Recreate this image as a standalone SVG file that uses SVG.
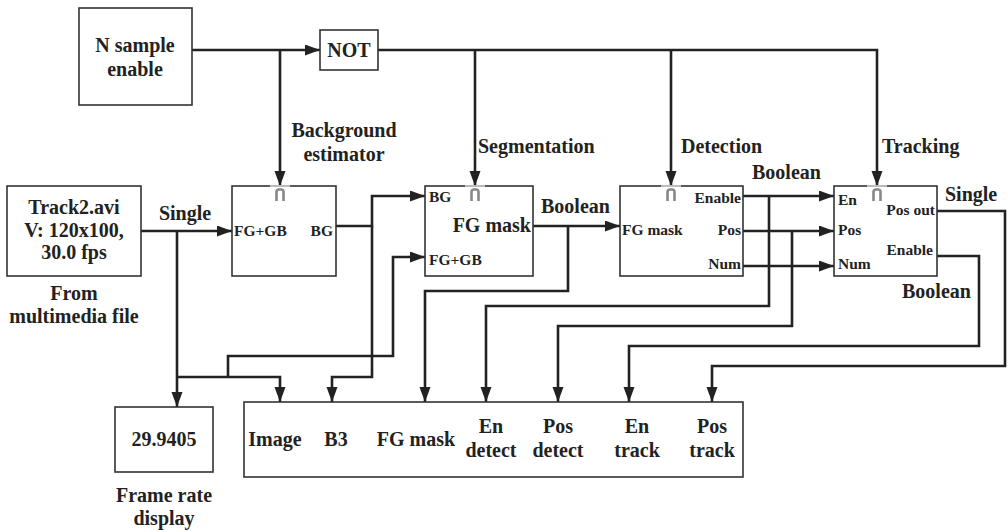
<svg xmlns="http://www.w3.org/2000/svg" width="1008" height="532" viewBox="0 0 1008 532" font-family="'Liberation Serif', 'Times New Roman', 'DejaVu Serif', serif">
<defs>
<marker id="ah" markerUnits="userSpaceOnUse" markerWidth="16" markerHeight="12" refX="15" refY="5.5" orient="auto">
<path d="M0,0 L15,5.5 L0,11 z" fill="#222"/>
</marker>
<g id="pulse">
<path d="M-10,0 H10" stroke="#bbb" stroke-width="2"/>
<path d="M-3.5,15 V6 Q-3.5,3.5 -1,3.5 H1 Q3.5,3.5 3.5,6 V15" fill="none" stroke="#888" stroke-width="2.6"/>
</g>
</defs>
<style>
.box{fill:#fff;stroke:#333;stroke-width:1.6}
.c{fill:none;stroke:#222;stroke-width:2.6;stroke-linejoin:miter}
.a{marker-end:url(#ah)}
text{font-family:'Liberation Serif','Times New Roman','DejaVu Serif',serif;font-weight:700;fill:#222}
.L{font-size:20px}
.p{font-size:15.5px}
.m{text-anchor:middle}
.e{text-anchor:end}
</style>
<rect width="1008" height="532" fill="#fff"/>

<g id="connectors">
<path class="c a" d="M192,50 H320"/>
<path class="c a" d="M280,50 V186"/>
<path class="c a" d="M378,50 H877 V186"/>
<path class="c a" d="M475,50 V186"/>
<path class="c a" d="M671,50 V186"/>
<path class="c a" d="M141,231 H232"/>
<path class="c a" d="M177,231 V407"/>
<path class="c a" d="M177,377 H280 V402"/>
<path class="c a" d="M228,377 V356 H393 V257 H425"/>
<path class="c a" d="M336,226 H372 V196 H425"/>
<path class="c a" d="M372,226 V377 H332 V402"/>
<path class="c a" d="M533,226 H620"/>
<path class="c a" d="M568,226 V291 H425 V402"/>
<path class="c a" d="M743,196 H834"/>
<path class="c a" d="M769,196 V306 H486 V402"/>
<path class="c a" d="M743,231 H834"/>
<path class="c a" d="M792,231 V326 H558 V402"/>
<path class="c a" d="M743,266 H834"/>
<path class="c a" d="M937,211 H1005 V366 H712 V402"/>
<path class="c a" d="M937,256 H979 V346 H629 V402"/>
</g>

<g id="nsample">
<rect class="box" x="79" y="8" width="113" height="97"/>
<text class="L m" x="135" y="52">N sample</text>
<text class="L m" x="135" y="76">enable</text>
</g>

<g id="not">
<rect class="box" x="320" y="30" width="58" height="40"/>
<text class="L m" x="349" y="57">NOT</text>
</g>

<g id="source">
<rect class="box" x="7" y="186" width="134" height="90"/>
<text class="L m" x="74" y="214">Track2.avi</text>
<text class="L m" x="74" y="237">V: 120x100,</text>
<text class="L m" x="74" y="259">30.0 fps</text>
<text class="L m" x="74" y="300">From</text>
<text class="L m" x="74" y="323">multimedia file</text>
</g>

<g id="bgest">
<rect class="box" x="232" y="186" width="104" height="90"/>
<use href="#pulse" x="280" y="186"/>
<text class="p" x="234" y="236">FG+GB</text>
<text class="p e" x="333" y="236">BG</text>
<text class="L m" x="344" y="137">Background</text>
<text class="L m" x="344" y="161">estimator</text>
</g>

<g id="segmentation">
<rect class="box" x="425" y="186" width="108" height="90"/>
<use href="#pulse" x="475" y="186"/>
<text class="p" x="429" y="202">BG</text>
<text class="L e" x="531" y="232">FG mask</text>
<text class="p" x="429" y="265">FG+GB</text>
<text class="L" x="478" y="153">Segmentation</text>
</g>

<g id="detection">
<rect class="box" x="620" y="186" width="123" height="90"/>
<use href="#pulse" x="671" y="186"/>
<text class="p e" x="741" y="203">Enable</text>
<text class="p e" x="741" y="235">Pos</text>
<text class="p e" x="741" y="269">Num</text>
<text class="p" x="622" y="235">FG mask</text>
<text class="L" x="681" y="153">Detection</text>
</g>

<g id="tracking">
<rect class="box" x="834" y="186" width="103" height="90"/>
<use href="#pulse" x="877" y="186"/>
<text class="p" x="838" y="205">En</text>
<text class="p" x="838" y="235">Pos</text>
<text class="p" x="838" y="269">Num</text>
<text class="p e" x="935" y="215">Pos out</text>
<text class="p e" x="933" y="255">Enable</text>
<text class="L" x="882" y="153">Tracking</text>
</g>

<g id="framerate">
<rect class="box" x="115" y="407" width="98" height="65"/>
<text class="L m" x="164" y="446">29.9405</text>
<text class="L m" x="164" y="502">Frame rate</text>
<text class="L m" x="164" y="525">display</text>
</g>

<g id="display">
<rect class="box" x="244" y="402" width="499" height="75"/>
<text class="L m" x="275" y="446">Image</text>
<text class="L m" x="336" y="446">B3</text>
<text class="L m" x="416" y="446">FG mask</text>
<text class="L m" x="491" y="433">En</text>
<text class="L m" x="491" y="457">detect</text>
<text class="L m" x="558" y="433">Pos</text>
<text class="L m" x="558" y="457">detect</text>
<text class="L m" x="637" y="433">En</text>
<text class="L m" x="637" y="457">track</text>
<text class="L m" x="712" y="433">Pos</text>
<text class="L m" x="712" y="457">track</text>
</g>

<g id="labels">
<text class="L m" x="185" y="220">Single</text>
<text class="L" x="541" y="213">Boolean</text>
<text class="L" x="752" y="179">Boolean</text>
<text class="L" x="945" y="201">Single</text>
<text class="L" x="902" y="298">Boolean</text>
</g>
</svg>
